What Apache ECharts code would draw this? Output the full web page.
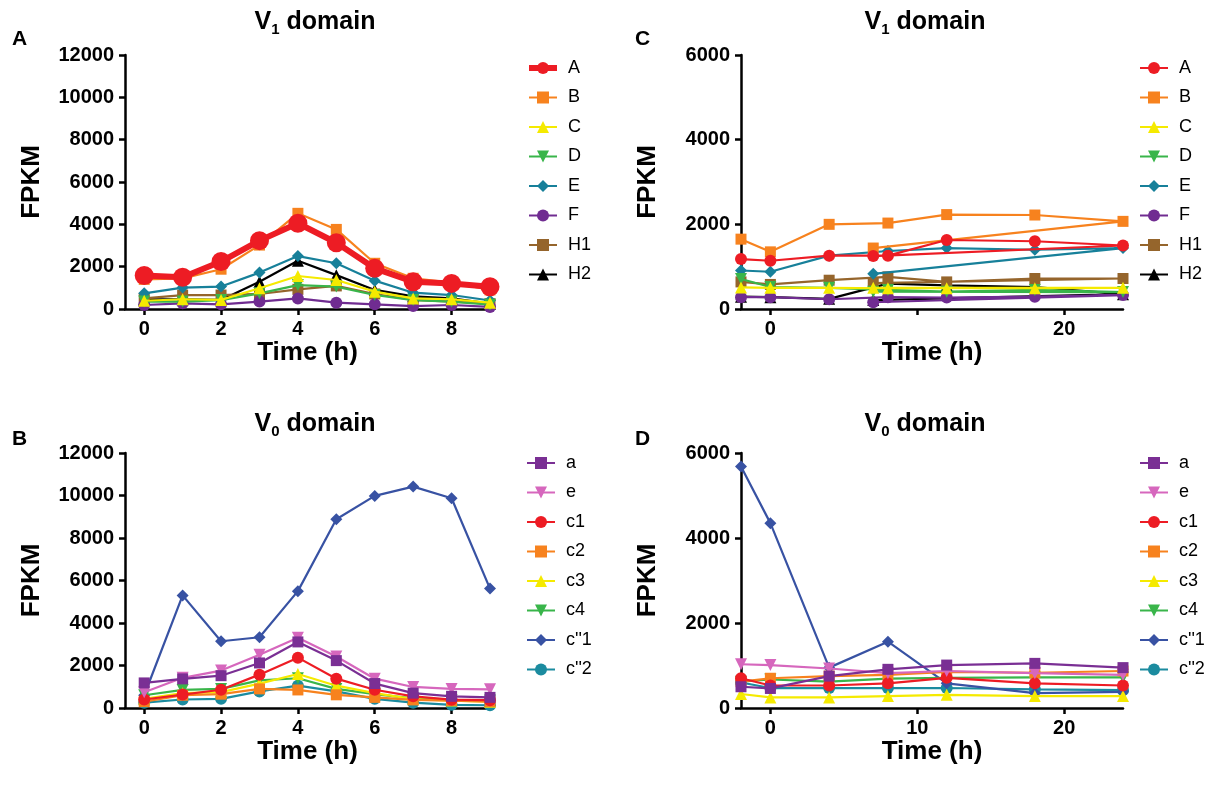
<!DOCTYPE html>
<html>
<head>
<meta charset="utf-8">
<script src="https://cdn.jsdelivr.net/npm/echarts@6/dist/echarts.min.js"></script>
<style>
html, body { margin: 0; background: #fff; }
#main { width: 1224px; height: 792px; }
</style>
</head>
<body>
<div id="main"></div>
<script>
var dom = document.getElementById('main');
var myChart = echarts.init(dom);
var FONT = 'Liberation Sans';

// ---- data ----
var hoursAB = [0, 1, 2, 3, 4, 5, 6, 7, 8, 9];
// panel C: sampling order as plotted (the 7 h point comes last)
var hoursC = [-2, 0, 4, 8, 12, 18, 24, 7];
var hoursD = [-2, 0, 4, 8, 12, 18, 24];

var v1Names = ['A', 'B', 'C', 'D', 'E', 'F', 'H1', 'H2'];
var v0Names = ['a', 'e', 'c1', 'c2', 'c3', 'c4', "c''1", "c''2"];

// panel A (V1 domain, 0-9 h)
var aA  = [1580, 1500, 2240, 3230, 4050, 3130, 1920, 1290, 1210, 1050];
var aB  = [1400, 1450, 1880, 3020, 4520, 3760, 2160, 1450, 1250, 900];
var aC  = [390, 460, 430, 980, 1560, 1370, 820, 500, 460, 300];
var aD  = [350, 350, 420, 740, 1130, 1060, 660, 420, 350, 200];
var aE  = [740, 1010, 1060, 1720, 2500, 2160, 1340, 770, 660, 400];
var aF  = [190, 270, 220, 350, 500, 300, 220, 140, 190, 100];
var aH1 = [500, 660, 660, 710, 930, 1090, 710, 430, 350, 250];
var aH2 = [460, 460, 430, 1290, 2280, 1600, 900, 600, 500, 250];

// panel B (V0 domain, 0-9 h)
var ba   = [1180, 1370, 1520, 2120, 3110, 2230, 1150, 700, 550, 500];
var be   = [740, 1420, 1760, 2510, 3310, 2420, 1380, 990, 900, 880];
var bc1  = [400, 630, 860, 1570, 2370, 1380, 860, 550, 390, 370];
var bc2  = [300, 600, 650, 900, 850, 620, 500, 380, 350, 300];
var bc3  = [430, 700, 750, 1150, 1600, 1050, 700, 420, 350, 300];
var bc4  = [600, 850, 900, 1300, 1400, 900, 650, 450, 380, 350];
var bcp1 = [600, 5300, 3140, 3330, 5500, 8880, 9980, 10420, 9870, 5620];
var bcp2 = [250, 400, 430, 780, 1050, 780, 430, 250, 150, 130];

// panel C (V1 domain, -2-24 h)
var cA  = [1180, 1140, 1260, 1260, 1630, 1600, 1500, 1250];
var cB  = [1650, 1350, 2000, 2030, 2230, 2220, 2070, 1440];
var cC  = [510, 500, 500, 490, 490, 490, 500, 500];
var cD  = [710, 520, 500, 450, 410, 450, 400, 410];
var cE  = [910, 880, 1260, 1370, 1440, 1400, 1440, 830];
var cF  = [280, 280, 230, 280, 270, 290, 330, 160];
var cH1 = [640, 580, 680, 760, 640, 720, 720, 610];
var cH2 = [290, 280, 240, 600, 560, 520, 350, 210];

// panel D (V0 domain, -2-24 h)
var da   = [500, 460, 750, 910, 1010, 1050, 950];
var de   = [1030, 1010, 930, 820, 870, 820, 780];
var dc1  = [700, 530, 530, 580, 710, 580, 530];
var dc2  = [620, 700, 750, 780, 850, 830, 870];
var dc3  = [330, 250, 250, 280, 310, 280, 280];
var dc4  = [620, 670, 620, 690, 710, 720, 720];
var dcp1 = [5680, 4350, 950, 1560, 580, 350, 380];
var dcp2 = [600, 470, 470, 470, 470, 440, 420];

var yTicksAB = [0, 12000, 2000];
var yTicksCD = [0, 6000, 2000];

// ---- styles ----
var sty = {
    'A':  { color: '#ed1c24', symbol: 'circle' },
    'B':  { color: '#f7821e', symbol: 'rect' },
    'C':  { color: '#f5ea00', symbol: 'triangle' },
    'D':  { color: '#39b54a', symbol: 'triangle', rot: 180 },
    'E':  { color: '#17809a', symbol: 'diamond' },
    'F':  { color: '#702c91', symbol: 'circle' },
    'H1': { color: '#95652c', symbol: 'rect' },
    'H2': { color: '#000000', symbol: 'triangle' },
    'a':  { color: '#7a2f94', symbol: 'rect' },
    'e':  { color: '#d667bd', symbol: 'triangle', rot: 180 },
    'c1': { color: '#ed1c24', symbol: 'circle' },
    'c2': { color: '#f7821e', symbol: 'rect' },
    'c3': { color: '#f5ea00', symbol: 'triangle' },
    'c4': { color: '#39b54a', symbol: 'triangle', rot: 180 },
    "c''1": { color: '#3852a3', symbol: 'diamond' },
    "c''2": { color: '#1b8b9f', symbol: 'circle' }
};

function pairs(xs, ys) {
    return xs.map(function (x, i) { return [x, ys[i]]; });
}

var series = [];
function addSeries(prefix, names, xs, lists, idx) {
    names.forEach(function (n, i) {
        var s = sty[n];
        var thick = (prefix === '' && n === 'A');
        series.push({
            name: prefix + n,
            type: 'line',
            xAxisIndex: idx,
            yAxisIndex: idx,
            data: pairs(xs, lists[i]),
            symbol: s.symbol,
            symbolRotate: s.rot || 0,
            symbolSize: thick ? 19 : (s.symbol === 'rect' ? 11 : 12),
            showAllSymbol: true,
            z: 2 + names.length - i,
            lineStyle: { color: s.color, width: thick ? 6 : 2.2 },
            itemStyle: { color: s.color },
            animation: false
        });
    });
}
addSeries('', v1Names, hoursAB, [aA, aB, aC, aD, aE, aF, aH1, aH2], 0);
addSeries('', v0Names, hoursAB, [ba, be, bc1, bc2, bc3, bc4, bcp1, bcp2], 1);
addSeries('C:', v1Names, hoursC, [cA, cB, cC, cD, cE, cF, cH1, cH2], 2);
addSeries('D:', v0Names, hoursD, [da, de, dc1, dc2, dc3, dc4, dcp1, dcp2], 3);

// ---- layout helpers ----
var grids = [
    { left: 125, top: 55, width: 365, height: 254 },
    { left: 125, top: 453, width: 365, height: 255 },
    { left: 741, top: 55, width: 382, height: 254 },
    { left: 741, top: 453, width: 382, height: 255 }
];

var axisLine = { show: true, onZero: false, lineStyle: { color: '#000', width: 2.5 } };
var axisTick = { show: true, length: 6, lineStyle: { color: '#000', width: 2.5 } };
var labelStyle = { fontFamily: FONT, fontSize: 20, fontWeight: 'bold', color: '#000' };
var nameStyle = { fontFamily: FONT, fontSize: 26, fontWeight: 'bold', color: '#000' };

function xAx(idx, min, max, ticks, labels) {
    return {
        gridIndex: idx, type: 'value', min: min, max: max,
        axisLine: axisLine,
        axisTick: Object.assign({ customValues: ticks }, axisTick),
        axisLabel: Object.assign({ customValues: labels, margin: 10 }, labelStyle),
        splitLine: { show: false },
        name: 'Time (h)', nameLocation: 'middle', nameGap: 21, nameTextStyle: nameStyle
    };
}
function yAx(idx, t) {
    return {
        gridIndex: idx, type: 'value', min: t[0], max: t[1], interval: t[2],
        axisLine: axisLine, axisTick: axisTick,
        axisLabel: Object.assign({ margin: 11, formatter: function (v) { return String(v); } }, labelStyle),
        splitLine: { show: false },
        name: 'FPKM', nameLocation: 'middle', nameGap: 80, nameTextStyle: nameStyle
    };
}

function legendAt(left, top, names, prefix) {
    return {
        orient: 'vertical', left: left, top: top, padding: 0,
        data: names.map(function (n) {
            var item = { name: prefix + n };
            if (prefix === '' && n === 'A') item.lineStyle = { width: 6 };
            return item;
        }),
        itemWidth: 28, itemHeight: 15, itemGap: 11.5,
        selectedMode: false,
        formatter: function (name) { return name.replace(/^[CD]:/, ''); },
        textStyle: { fontFamily: FONT, fontSize: 18, color: '#000', padding: [0, 0, 0, 6] }
    };
}

function titleAt(cx, top, sub) {
    return {
        text: 'V{s|' + sub + '} domain', left: cx, top: top, textAlign: 'center',
        textStyle: {
            fontFamily: FONT, fontSize: 25, fontWeight: 'bold', color: '#000', lineHeight: 30,
            rich: { s: { fontFamily: FONT, fontSize: 15, fontWeight: 'bold', color: '#000', lineHeight: 13, verticalAlign: 'bottom' } }
        }
    };
}
function letter(txt, left, top) {
    return { text: txt, left: left, top: top, textStyle: { fontFamily: FONT, fontSize: 21, fontWeight: 'bold', color: '#000' } };
}

option = {
    backgroundColor: '#fff',
    animation: false,
    title: [
        titleAt(310, 2, '1'), titleAt(310, 404, '0'), titleAt(920, 2, '1'), titleAt(920, 404, '0'),
        letter('A', 7, 24), letter('B', 7, 424), letter('C', 630, 24), letter('D', 630, 424)
    ],
    legend: [
        legendAt(526, 59, v1Names, ''),
        legendAt(526, 454, v0Names, ''),
        legendAt(1139, 59, v1Names, 'C:'),
        legendAt(1139, 454, v0Names, 'D:')
    ],
    grid: grids,
    xAxis: [
        xAx(0, -0.5, 9, [0, 2, 4, 6, 8], [0, 2, 4, 6, 8]),
        xAx(1, -0.5, 9, [0, 2, 4, 6, 8], [0, 2, 4, 6, 8]),
        xAx(2, -2, 24, [0, 10, 20], [0, 20]),
        xAx(3, -2, 24, [0, 10, 20], [0, 10, 20])
    ],
    yAxis: [yAx(0, yTicksAB), yAx(1, yTicksAB), yAx(2, yTicksCD), yAx(3, yTicksCD)],
    series: series
};

myChart.setOption(option);
</script>
</body>
</html>
